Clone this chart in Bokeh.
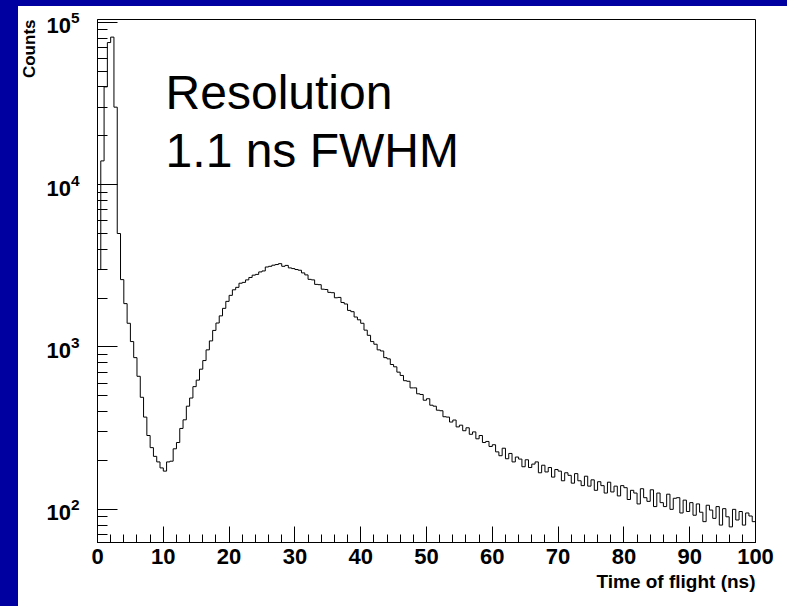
import math
from bokeh.plotting import figure
from bokeh.models import LogTicker, FixedTicker, Title, Label
from bokeh.embed import file_html
from bokeh.resources import INLINE

# ---- data (time of flight histogram, 0.5 ns bins) ----
bin_width = 0.5
t_start = 0.0
counts = [
    3000, 14000, 40000, 75000, 81000, 30000, 5000, 2600, 1850, 1400,
    1080, 860, 660, 490, 370, 285, 240, 212, 196, 180,
    172, 196, 198, 236, 258, 315, 356, 432, 485, 570,
    625, 730, 825, 960, 1090, 1265, 1405, 1555, 1730, 1910,
    2080, 2250, 2330, 2470, 2500, 2590, 2680, 2770, 2800, 2900,
    2940, 3110, 3140, 3190, 3220, 3260, 3140, 3180, 3070, 3040,
    3000, 2970, 2860, 2780, 2610, 2590, 2430, 2420, 2270, 2260,
    2170, 2160, 2010, 2020, 1880, 1840, 1680, 1650, 1530, 1470,
    1400, 1270, 1180, 1080, 1040, 960, 945, 860, 845, 780,
    755, 700, 668, 620, 615, 560, 560, 515, 510, 470,
    480, 438, 432, 408, 405, 372, 370, 345, 355, 322,
    330, 305, 318, 290, 300, 272, 285, 258, 262, 244,
    250, 226, 214, 238, 205, 221, 196, 210, 204, 183,
    202, 181, 190, 196, 168, 187, 170, 181, 158, 176,
    172, 150, 168, 162, 145, 166, 150, 140, 160, 139,
    152, 131, 148, 140, 126, 147, 128, 139, 121, 140,
    136, 115, 131, 126, 108, 134, 118, 112, 132, 104,
    126, 110, 104, 124, 100, 117, 118, 95, 114, 97,
    110, 92, 108, 96, 84, 106, 99, 88, 104, 80,
    101, 90, 78, 100, 86, 97, 80, 95, 91, 84,
]
x_ticks = [0, 10, 20, 30, 40, 50, 60, 70, 80, 90, 100]
x_minor_step = 2
x_title = "Time of flight (ns)"
y_title = "Counts"
note_line1 = "Resolution"
note_line2 = "1.1 ns FWHM"

edges = [t_start + i * bin_width for i in range(len(counts) + 1)]
ys = counts + [counts[-1]]

FONT = "Liberation Sans"

p = figure(width=787, height=606, x_range=(0, 100), y_range=(62.5, 104000),
           y_axis_type="log", output_backend="svg", toolbar_location=None,
           min_border_left=97, min_border_right=32, min_border_top=19,
           min_border_bottom=64)

p.step(edges, ys, mode="after", line_color="black", line_width=1)

p.xgrid.visible = False
p.ygrid.visible = False
p.background_fill_color = "white"
p.border_fill_alpha = 0
p.outline_line_color = "black"
p.outline_line_width = 1

p.xaxis.ticker = FixedTicker(ticks=x_ticks,
                             minor_ticks=list(range(0, 101, x_minor_step)))
p.yaxis.ticker = LogTicker(num_minor_ticks=10)

for ax in (p.xaxis[0], p.yaxis[0]):
    ax.axis_line_color = "black"
    ax.major_tick_line_color = "black"
    ax.minor_tick_line_color = "black"
    ax.major_tick_out = 0
    ax.minor_tick_out = 0
    ax.major_label_text_font = FONT
    ax.major_label_text_font_style = "bold"
    ax.major_label_text_font_size = "22px"
    ax.major_label_text_color = "black"

p.xaxis.major_tick_in = 16
p.xaxis.minor_tick_in = 8
p.xaxis.major_label_standoff = 6
p.yaxis.major_tick_in = 20
p.yaxis.minor_tick_in = 10
p.yaxis.major_label_standoff = 18

p.add_layout(Title(text=x_title, align="right", text_font=FONT,
                   text_font_style="bold", text_font_size="19px",
                   text_color="black", standoff=4), "below")
p.add_layout(Title(text=y_title, align="right", text_font=FONT,
                   text_font_style="bold", text_font_size="17px",
                   text_color="black", standoff=10), "left")

p.add_layout(Label(x=10.35, y=36900, text=note_line1, text_align="left",
                   text_baseline="alphabetic", text_font=FONT,
                   text_font_size="48px", text_color="black"))
p.add_layout(Label(x=10.35, y=16200, text=note_line2, text_align="left",
                   text_baseline="alphabetic", text_font=FONT,
                   text_font_size="48px", text_color="black"))

html = file_html(p, INLINE)
css = ("<style>html{background:"
       "linear-gradient(to right,#0000a0 18px,rgba(255,255,255,0) 18px) fixed no-repeat,"
       "linear-gradient(to bottom,#0000a0 6px,#ffffff 6px) fixed no-repeat,"
       "#ffffff !important;}body{background:transparent !important;}</style>")
html = html.replace("</head>", css + "</head>", 1)
open("out.html", "w").write(html)
